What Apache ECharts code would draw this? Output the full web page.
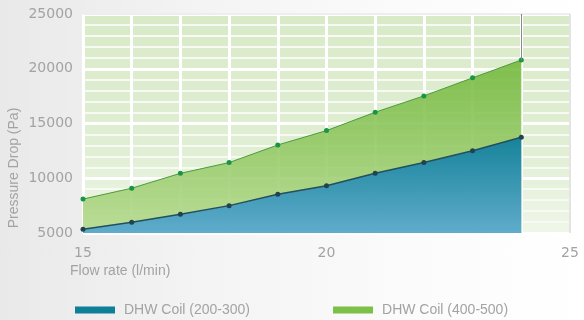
<!DOCTYPE html>
<html>
<head>
<meta charset="utf-8">
<script src="https://cdn.jsdelivr.net/npm/echarts@6/dist/echarts.min.js"></script>
<style>
  html, body { margin: 0; padding: 0; }
  body {
    width: 584px; height: 320px; overflow: hidden;
    background: linear-gradient(to right, #e9e9e9 0%, #f4f4f4 35%, #fbfbfb 70%, #ffffff 100%);
  }
  #chart { width: 584px; height: 320px; }
</style>
</head>
<body>
<div id="chart"></div>
<script>
// Flow rate (l/min) sampled at each whole litre
const flowRates = [15, 16, 17, 18, 19, 20, 21, 22, 23, 24];
// Pressure drop (Pa) per coil size
const coilSmall = [5350, 5980, 6710, 7500, 8540, 9310, 10460, 11430, 12520, 13750];
const coilLarge = [8100, 9090, 10450, 11430, 13040, 14350, 16030, 17520, 19170, 20800];
const seriesNames = ['DHW Coil (200-300)', 'DHW Coil (400-500)'];
const xTicks = [15, 20, 25];
const yTicks = [5000, 10000, 15000, 20000, 25000];

const gridBox = { left: 83, right: 14, top: 14, bottom: 87 };
const plotTop = gridBox.top;
const plotBottom = 320 - gridBox.bottom;

const textFont = 'Liberation Sans, Arial, sans-serif';
const numberFont = 'DejaVu Sans, Verdana, sans-serif';
const textGray = '#a3a3a3';

const chart = echarts.init(document.getElementById('chart'), null, { renderer: 'canvas' });

const pairs = arr => flowRates.map((x, i) => [x, arr[i]]);
const lastX = flowRates[flowRates.length - 1];
const lastLarge = coilLarge[coilLarge.length - 1];

chart.setOption({
  animation: false,
  textStyle: { fontFamily: textFont },
  grid: {
    ...gridBox,
    show: true,
    borderWidth: 0,
    backgroundColor: new echarts.graphic.LinearGradient(0, 0, 0, 1, [
      { offset: 0, color: '#d9eac8' },
      { offset: 0.6, color: '#e0eed3' },
      { offset: 1, color: '#eff6e9' }
    ])
  },
  legend: {
    left: 70, top: 298,
    icon: 'rect', itemWidth: 40, itemHeight: 7, itemGap: 83,
    textStyle: { color: textGray, fontSize: 14, fontFamily: textFont, padding: [0, 0, 0, 4] },
    data: [
      { name: seriesNames[0], itemStyle: { color: '#0e7f98' } },
      { name: seriesNames[1], itemStyle: { color: '#7cc04a' } }
    ]
  },
  xAxis: {
    type: 'value', min: xTicks[0], max: xTicks[xTicks.length - 1], interval: 5,
    axisLine: { show: false }, axisTick: { show: false },
    axisLabel: { color: textGray, fontSize: 14, fontFamily: numberFont, margin: 13 },
    splitLine: { show: true, lineStyle: { color: '#ffffff', width: 3 } },
    minorTick: { show: false, splitNumber: 5 },
    minorSplitLine: { show: true, lineStyle: { color: '#ffffff', width: 3 } }
  },
  yAxis: {
    type: 'value', min: yTicks[0], max: yTicks[yTicks.length - 1], interval: 5000,
    axisLine: { show: false }, axisTick: { show: false },
    axisLabel: { color: textGray, fontSize: 14, fontFamily: numberFont, margin: 10, formatter: v => String(v) },
    splitLine: { show: true, lineStyle: { color: '#ffffff', width: 3 } },
    minorTick: { show: false, splitNumber: 5 },
    minorSplitLine: { show: true, lineStyle: { color: '#f6faf2', width: 2 } }
  },
  graphic: [
    { type: 'text', left: 70, top: 264,
      style: { text: 'Flow rate (l/min)', fill: textGray, font: '14px ' + textFont } },
    { type: 'text', x: 14, y: 168, rotation: Math.PI / 2,
      style: { text: 'Pressure Drop (Pa)', fill: textGray, font: '14px ' + textFont,
               textAlign: 'center', textVerticalAlign: 'middle' } },
    { type: 'line', z: 5,
      shape: { x1: 570, y1: plotTop, x2: 570, y2: plotBottom },
      style: { stroke: '#c8c8c8', lineWidth: 1 } },
    { type: 'line', z: 5,
      shape: { x1: 83, y1: plotTop, x2: 570, y2: plotTop },
      style: { stroke: '#dcdcdc', lineWidth: 1 } }
  ],
  series: [
    {
      name: seriesNames[1], type: 'line', z: 2,
      data: pairs(coilLarge),
      symbol: 'circle', symbolSize: 5, showSymbol: true,
      itemStyle: { color: '#1a9447' },
      lineStyle: { color: '#4a9d3a', width: 1 },
      areaStyle: {
        opacity: 0.88,
        color: new echarts.graphic.LinearGradient(0, plotTop + 40, 0, plotBottom, [
          { offset: 0, color: '#6fb637' },
          { offset: 1, color: '#b3d98c' }
        ], true)
      },
      markLine: {
        silent: true, symbol: 'none', label: { show: false },
        lineStyle: { color: '#8a8a8a', width: 1, type: 'solid' },
        data: [[{ coord: [lastX, yTicks[yTicks.length - 1]] }, { coord: [lastX, lastLarge] }]]
      }
    },
    {
      name: seriesNames[0], type: 'line', z: 3,
      data: pairs(coilSmall),
      symbol: 'circle', symbolSize: 5, showSymbol: true,
      itemStyle: { color: '#23424f' },
      lineStyle: { color: '#234f5e', width: 1.5 },
      areaStyle: {
        opacity: 0.93,
        color: new echarts.graphic.LinearGradient(0, plotTop + 120, 0, plotBottom, [
          { offset: 0, color: '#0b7c9c' },
          { offset: 1, color: '#58a8cf' }
        ], true)
      }
    }
  ]
});
</script>
</body>
</html>
